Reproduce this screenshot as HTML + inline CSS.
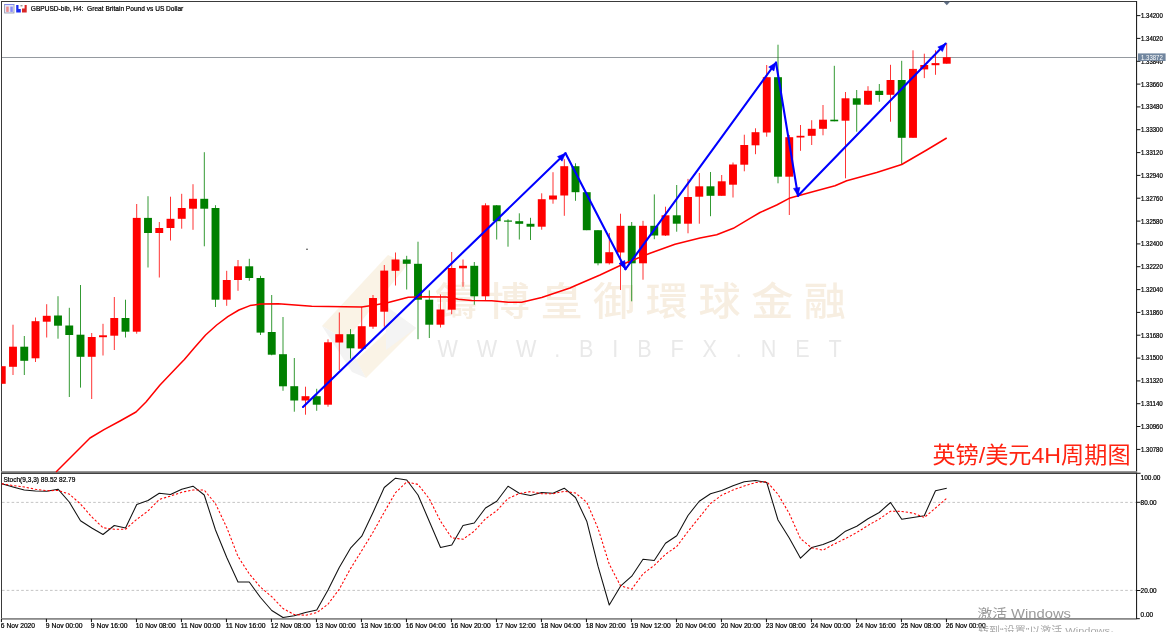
<!DOCTYPE html><html><head><meta charset="utf-8"><title>GBPUSD H4</title>
<style>html,body{margin:0;padding:0;background:#fff;overflow:hidden}svg{display:block}text.s{stroke:#000;stroke-width:.22px}text{font-family:"Liberation Sans","Noto Sans CJK SC",sans-serif}</style></head><body>
<svg width="1170" height="632" viewBox="0 0 1170 632">
<rect width="1170" height="632" fill="#fff"/>
<g opacity="1">
<polygon points="322,326 388,255 408,264 346,340" fill="#faf3e6"/>
<polygon points="322,326 346,340 366,378 352,372" fill="#f3f3f3"/>
<polygon points="366,378 416,328 402,318 356,360" fill="#faf3e6"/>
<polygon points="386,306 416,328 386,350" fill="#f4f4f4"/>
</g>
<g transform="translate(435,315) scale(1.08,1)"><text x="0" y="0" font-size="39" font-weight="500" fill="#f7eee1" letter-spacing="9.8" style="font-family:'Liberation Sans','Noto Sans CJK TC',sans-serif">鑄博皇御環球金融</text></g>
<g transform="translate(437.6,357.2) scale(0.9,1)"><text x="0" y="0" font-size="24" fill="#e9e9e9" textLength="449" lengthAdjust="spacing">WWW.BIBFX.NET</text></g>
<g shape-rendering="crispEdges">
</g>
<rect x="1" y="1" width="1136" height="1" fill="#3a3a3a"/>
<rect x="1" y="1" width="1" height="618" fill="#3a3a3a"/>
<rect x="1136" y="1" width="1.1" height="618.2" fill="#222"/>
<rect x="1136" y="618.1" width="3.8" height="1.1" fill="#222"/>
<rect x="1" y="471.1" width="1136" height="1.8" fill="#8c8c8c"/>
<rect x="1" y="472.7" width="1139.6" height="1.2" fill="#2e2e2e"/>
<rect x="1" y="618" width="1135" height="1.8" fill="#8a8a8a"/>
<rect x="2" y="57.1" width="1134" height="0.9" fill="#8a8f96"/>
<line x1="2" x2="1136" y1="502.4" y2="502.4" stroke="#bdbdbd" stroke-width="0.9" stroke-dasharray="2.6 2.2"/>
<line x1="2" x2="1136" y1="590.4" y2="590.4" stroke="#bdbdbd" stroke-width="0.9" stroke-dasharray="2.6 2.2"/>
<rect x="1.35" y="366.2" width="0.8" height="17.6" fill="#ff0000"/>
<rect x="2.00" y="366.2" width="3.70" height="17.6" fill="#ff0000"/>
<rect x="12.60" y="324.7" width="0.8" height="50.3" fill="#ff0000"/>
<rect x="9.05" y="346.7" width="7.90" height="20.1" fill="#ff0000"/>
<rect x="23.85" y="336" width="0.8" height="39.0" fill="#008000"/>
<rect x="20.30" y="346.7" width="7.90" height="14.1" fill="#008000"/>
<rect x="35.10" y="317.5" width="0.8" height="44.5" fill="#ff0000"/>
<rect x="31.55" y="321.2" width="7.90" height="37.1" fill="#ff0000"/>
<rect x="46.35" y="304.2" width="0.8" height="33.3" fill="#ff0000"/>
<rect x="42.80" y="315.8" width="7.90" height="5.9" fill="#ff0000"/>
<rect x="57.60" y="296.2" width="0.8" height="42.5" fill="#008000"/>
<rect x="54.05" y="315.5" width="7.90" height="10.2" fill="#008000"/>
<rect x="68.85" y="307.8" width="0.8" height="89.2" fill="#008000"/>
<rect x="65.30" y="325.5" width="7.90" height="9.5" fill="#008000"/>
<rect x="80.10" y="285" width="0.8" height="102.6" fill="#008000"/>
<rect x="76.55" y="334.7" width="7.90" height="22.1" fill="#008000"/>
<rect x="91.35" y="333" width="0.8" height="66.0" fill="#ff0000"/>
<rect x="87.80" y="337" width="7.90" height="19.8" fill="#ff0000"/>
<rect x="102.60" y="323.8" width="0.8" height="31.7" fill="#ff0000"/>
<rect x="99.05" y="335.3" width="7.90" height="1.9" fill="#ff0000"/>
<rect x="113.85" y="297" width="0.8" height="53.0" fill="#ff0000"/>
<rect x="110.30" y="318" width="7.90" height="17.7" fill="#ff0000"/>
<rect x="125.10" y="299.7" width="0.8" height="37.8" fill="#008000"/>
<rect x="121.55" y="318" width="7.90" height="13.7" fill="#008000"/>
<rect x="136.35" y="204" width="0.8" height="129.7" fill="#ff0000"/>
<rect x="132.80" y="217.9" width="7.90" height="113.8" fill="#ff0000"/>
<rect x="147.60" y="196.2" width="0.8" height="71.3" fill="#008000"/>
<rect x="144.05" y="217.9" width="7.90" height="15.1" fill="#008000"/>
<rect x="158.85" y="222" width="0.8" height="55.5" fill="#ff0000"/>
<rect x="155.30" y="228" width="7.90" height="5.0" fill="#ff0000"/>
<rect x="170.10" y="196.7" width="0.8" height="43.8" fill="#ff0000"/>
<rect x="166.55" y="218.8" width="7.90" height="9.2" fill="#ff0000"/>
<rect x="181.35" y="193.8" width="0.8" height="34.9" fill="#ff0000"/>
<rect x="177.80" y="208" width="7.90" height="10.8" fill="#ff0000"/>
<rect x="192.60" y="184.2" width="0.8" height="45.6" fill="#ff0000"/>
<rect x="189.05" y="198.8" width="7.90" height="9.9" fill="#ff0000"/>
<rect x="203.85" y="152.2" width="0.8" height="94.1" fill="#008000"/>
<rect x="200.30" y="198.8" width="7.90" height="9.9" fill="#008000"/>
<rect x="215.10" y="205.2" width="0.8" height="101.8" fill="#008000"/>
<rect x="211.55" y="208" width="7.90" height="91.7" fill="#008000"/>
<rect x="226.35" y="270.8" width="0.8" height="35.0" fill="#ff0000"/>
<rect x="222.80" y="280" width="7.90" height="19.7" fill="#ff0000"/>
<rect x="237.60" y="260" width="0.8" height="30.8" fill="#ff0000"/>
<rect x="234.05" y="266.3" width="7.90" height="13.7" fill="#ff0000"/>
<rect x="248.85" y="258.8" width="0.8" height="22.0" fill="#008000"/>
<rect x="245.30" y="266.3" width="7.90" height="11.7" fill="#008000"/>
<rect x="260.10" y="275.8" width="0.8" height="59.2" fill="#008000"/>
<rect x="256.55" y="278" width="7.90" height="54.6" fill="#008000"/>
<rect x="271.35" y="295" width="0.8" height="60.3" fill="#008000"/>
<rect x="267.80" y="332" width="7.90" height="22.7" fill="#008000"/>
<rect x="282.60" y="317" width="0.8" height="73.8" fill="#008000"/>
<rect x="279.05" y="354.2" width="7.90" height="32.1" fill="#008000"/>
<rect x="293.85" y="358" width="0.8" height="53.7" fill="#008000"/>
<rect x="290.30" y="386.2" width="7.90" height="14.3" fill="#008000"/>
<rect x="305.10" y="386.7" width="0.8" height="28.0" fill="#ff0000"/>
<rect x="301.55" y="396.2" width="7.90" height="4.3" fill="#ff0000"/>
<rect x="316.35" y="388.8" width="0.8" height="22.0" fill="#008000"/>
<rect x="312.80" y="396.2" width="7.90" height="8.5" fill="#008000"/>
<rect x="327.60" y="339.3" width="0.8" height="67.4" fill="#ff0000"/>
<rect x="324.05" y="342.3" width="7.90" height="62.4" fill="#ff0000"/>
<rect x="338.85" y="312.5" width="0.8" height="57.5" fill="#ff0000"/>
<rect x="335.30" y="334.2" width="7.90" height="8.3" fill="#ff0000"/>
<rect x="350.10" y="329.1" width="0.8" height="29.6" fill="#008000"/>
<rect x="346.55" y="334.2" width="7.90" height="14.1" fill="#008000"/>
<rect x="361.35" y="306.7" width="0.8" height="42.0" fill="#ff0000"/>
<rect x="357.80" y="326.2" width="7.90" height="22.5" fill="#ff0000"/>
<rect x="372.60" y="295" width="0.8" height="33.8" fill="#ff0000"/>
<rect x="369.05" y="298" width="7.90" height="28.7" fill="#ff0000"/>
<rect x="383.85" y="265" width="0.8" height="61.7" fill="#ff0000"/>
<rect x="380.30" y="270.6" width="7.90" height="41.1" fill="#ff0000"/>
<rect x="395.10" y="252.5" width="0.8" height="33.0" fill="#ff0000"/>
<rect x="391.55" y="259.5" width="7.90" height="11.3" fill="#ff0000"/>
<rect x="406.35" y="255.8" width="0.8" height="33.7" fill="#008000"/>
<rect x="402.80" y="259.5" width="7.90" height="4.3" fill="#008000"/>
<rect x="417.60" y="241.7" width="0.8" height="97.5" fill="#008000"/>
<rect x="414.05" y="263.8" width="7.90" height="35.9" fill="#008000"/>
<rect x="428.85" y="290.3" width="0.8" height="47.7" fill="#008000"/>
<rect x="425.30" y="299.7" width="7.90" height="25.0" fill="#008000"/>
<rect x="440.10" y="294.5" width="0.8" height="33.0" fill="#ff0000"/>
<rect x="436.55" y="309.5" width="7.90" height="15.2" fill="#ff0000"/>
<rect x="451.35" y="252" width="0.8" height="62.2" fill="#ff0000"/>
<rect x="447.80" y="268" width="7.90" height="41.7" fill="#ff0000"/>
<rect x="462.60" y="259.5" width="0.8" height="27.2" fill="#ff0000"/>
<rect x="459.05" y="265.8" width="7.90" height="2.5" fill="#ff0000"/>
<rect x="473.85" y="262" width="0.8" height="42.7" fill="#008000"/>
<rect x="470.30" y="265.8" width="7.90" height="30.5" fill="#008000"/>
<rect x="485.10" y="203.3" width="0.8" height="96.7" fill="#ff0000"/>
<rect x="481.55" y="205.3" width="7.90" height="91.0" fill="#ff0000"/>
<rect x="496.35" y="205" width="0.8" height="34.5" fill="#008000"/>
<rect x="492.80" y="205.3" width="7.90" height="15.9" fill="#008000"/>
<rect x="507.60" y="219.2" width="0.8" height="27.5" fill="#008000"/>
<rect x="504.05" y="220.5" width="7.90" height="1.2" fill="#008000"/>
<rect x="518.85" y="213.3" width="0.8" height="26.2" fill="#008000"/>
<rect x="515.30" y="221.2" width="7.90" height="2.6" fill="#008000"/>
<rect x="530.10" y="217.8" width="0.8" height="22.2" fill="#008000"/>
<rect x="526.55" y="223.8" width="7.90" height="2.9" fill="#008000"/>
<rect x="541.35" y="193.3" width="0.8" height="36.4" fill="#ff0000"/>
<rect x="537.80" y="199.2" width="7.90" height="27.5" fill="#ff0000"/>
<rect x="552.60" y="172.2" width="0.8" height="31.5" fill="#ff0000"/>
<rect x="549.05" y="195.5" width="7.90" height="4.0" fill="#ff0000"/>
<rect x="563.85" y="159.2" width="0.8" height="56.6" fill="#ff0000"/>
<rect x="560.30" y="166.2" width="7.90" height="29.3" fill="#ff0000"/>
<rect x="575.10" y="163.3" width="0.8" height="37.5" fill="#008000"/>
<rect x="571.55" y="166.2" width="7.90" height="26.0" fill="#008000"/>
<rect x="586.35" y="192.2" width="0.8" height="38.0" fill="#008000"/>
<rect x="582.80" y="192.2" width="7.90" height="38.0" fill="#008000"/>
<rect x="597.60" y="230.2" width="0.8" height="35.1" fill="#008000"/>
<rect x="594.05" y="230.2" width="7.90" height="33.1" fill="#008000"/>
<rect x="608.85" y="233" width="0.8" height="31.5" fill="#ff0000"/>
<rect x="605.30" y="252.2" width="7.90" height="11.1" fill="#ff0000"/>
<rect x="620.10" y="213.7" width="0.8" height="76.3" fill="#ff0000"/>
<rect x="616.55" y="225.8" width="7.90" height="26.7" fill="#ff0000"/>
<rect x="631.35" y="222" width="0.8" height="79.3" fill="#008000"/>
<rect x="627.80" y="225.8" width="7.90" height="37.5" fill="#008000"/>
<rect x="642.60" y="220.8" width="0.8" height="58.9" fill="#ff0000"/>
<rect x="639.05" y="225.8" width="7.90" height="37.5" fill="#ff0000"/>
<rect x="653.85" y="194.4" width="0.8" height="44.8" fill="#008000"/>
<rect x="650.30" y="225.8" width="7.90" height="9.7" fill="#008000"/>
<rect x="665.10" y="206.7" width="0.8" height="29.3" fill="#ff0000"/>
<rect x="661.55" y="215.3" width="7.90" height="20.2" fill="#ff0000"/>
<rect x="676.35" y="185" width="0.8" height="46.7" fill="#008000"/>
<rect x="672.80" y="215.3" width="7.90" height="8.4" fill="#008000"/>
<rect x="687.60" y="178.9" width="0.8" height="54.4" fill="#ff0000"/>
<rect x="684.05" y="197" width="7.90" height="26.7" fill="#ff0000"/>
<rect x="698.85" y="173" width="0.8" height="50.7" fill="#ff0000"/>
<rect x="695.30" y="186.3" width="7.90" height="10.4" fill="#ff0000"/>
<rect x="710.10" y="172" width="0.8" height="44.2" fill="#008000"/>
<rect x="706.55" y="186.3" width="7.90" height="9.5" fill="#008000"/>
<rect x="721.35" y="175" width="0.8" height="20.8" fill="#ff0000"/>
<rect x="717.80" y="181.3" width="7.90" height="14.5" fill="#ff0000"/>
<rect x="732.60" y="162.5" width="0.8" height="35.0" fill="#ff0000"/>
<rect x="729.05" y="164.5" width="7.90" height="20.2" fill="#ff0000"/>
<rect x="743.85" y="134.7" width="0.8" height="36.6" fill="#ff0000"/>
<rect x="740.30" y="145" width="7.90" height="19.7" fill="#ff0000"/>
<rect x="755.10" y="128.3" width="0.8" height="25.9" fill="#ff0000"/>
<rect x="751.55" y="132.2" width="7.90" height="13.1" fill="#ff0000"/>
<rect x="766.35" y="65" width="0.8" height="71.7" fill="#ff0000"/>
<rect x="762.80" y="77.2" width="7.90" height="55.3" fill="#ff0000"/>
<rect x="777.60" y="44.7" width="0.8" height="138.6" fill="#008000"/>
<rect x="774.05" y="77.2" width="7.90" height="99.5" fill="#008000"/>
<rect x="788.85" y="135" width="0.8" height="80.0" fill="#ff0000"/>
<rect x="785.30" y="137.2" width="7.90" height="39.5" fill="#ff0000"/>
<rect x="800.10" y="125" width="0.8" height="25.8" fill="#ff0000"/>
<rect x="796.55" y="135.8" width="7.90" height="1.7" fill="#ff0000"/>
<rect x="811.35" y="120.2" width="0.8" height="24.8" fill="#ff0000"/>
<rect x="807.80" y="128.8" width="7.90" height="7.0" fill="#ff0000"/>
<rect x="822.60" y="105" width="0.8" height="30.3" fill="#ff0000"/>
<rect x="819.05" y="119.7" width="7.90" height="9.1" fill="#ff0000"/>
<rect x="833.85" y="65.8" width="0.8" height="55.5" fill="#008000"/>
<rect x="830.30" y="119.7" width="7.90" height="1.6" fill="#008000"/>
<rect x="845.10" y="92" width="0.8" height="86.3" fill="#ff0000"/>
<rect x="841.55" y="98.3" width="7.90" height="22.4" fill="#ff0000"/>
<rect x="856.35" y="90" width="0.8" height="41.7" fill="#008000"/>
<rect x="852.80" y="98.3" width="7.90" height="6.4" fill="#008000"/>
<rect x="867.60" y="86.2" width="0.8" height="18.8" fill="#ff0000"/>
<rect x="864.05" y="90.8" width="7.90" height="13.9" fill="#ff0000"/>
<rect x="878.85" y="84" width="0.8" height="17.7" fill="#008000"/>
<rect x="875.30" y="90.8" width="7.90" height="4.2" fill="#008000"/>
<rect x="890.10" y="64.8" width="0.8" height="56.9" fill="#ff0000"/>
<rect x="886.55" y="80" width="7.90" height="14.8" fill="#ff0000"/>
<rect x="901.35" y="60.8" width="0.8" height="103.4" fill="#008000"/>
<rect x="897.80" y="80" width="7.90" height="57.8" fill="#008000"/>
<rect x="912.60" y="50.3" width="0.8" height="87.5" fill="#ff0000"/>
<rect x="909.05" y="68.9" width="7.90" height="68.9" fill="#ff0000"/>
<rect x="923.85" y="53.7" width="0.8" height="24.4" fill="#ff0000"/>
<rect x="920.30" y="65" width="7.90" height="4.4" fill="#ff0000"/>
<rect x="935.10" y="50.3" width="0.8" height="24.5" fill="#ff0000"/>
<rect x="931.55" y="63.1" width="7.90" height="2.1" fill="#ff0000"/>
<rect x="946.35" y="43.3" width="0.8" height="20.4" fill="#ff0000"/>
<rect x="942.80" y="57.2" width="7.90" height="6.5" fill="#ff0000"/>
<polyline points="56,472 72,456 90,438 104,429.6 120,421 136,412 146,402 160,385 180,364 184.4,359.4 194.4,347.8 205.6,335 216.7,325 227.8,316.7 238.9,310 250,305.6 261.1,304.1 278.3,303.7 295,305 311.7,306.3 345,306.7 361.7,307 375,305 388.3,302.5 408.3,297.2 425,296.7 446.7,297 458.3,299.2 471.7,300.5 491.7,300.8 508.3,302.2 521.7,302.2 541.7,297.5 570,288 575,285.8 600,275 625,263.3 650,253.3 675,244.2 700,238 716.7,234.7 733.3,228.3 750,218.3 760,212.5 776.7,205 789.2,198.3 810,192.5 835,185.8 846.7,180.8 876.7,172.5 901.7,164.5 926.7,150 946.7,138" fill="none" stroke="#ff0000" stroke-width="1.5" stroke-linejoin="round"/>
<circle cx="307" cy="249.2" r="0.8" fill="#333"/>
<line x1="303" y1="407" x2="565.5" y2="153.3" stroke="#0000ff" stroke-width="2.1" stroke-linecap="round"/>
<polygon points="565.5,153.3 562.0,161.2 557.5,156.6" fill="#0000ff" stroke="#0000ff" stroke-width="0.6" stroke-linejoin="round"/>
<line x1="565.5" y1="153.3" x2="625.5" y2="269.2" stroke="#0000ff" stroke-width="2.1" stroke-linecap="round"/>
<polygon points="625.5,269.2 619.0,263.6 624.7,260.6" fill="#0000ff" stroke="#0000ff" stroke-width="0.6" stroke-linejoin="round"/>
<line x1="625.5" y1="269.2" x2="776" y2="62.5" stroke="#0000ff" stroke-width="2.1" stroke-linecap="round"/>
<polygon points="776.0,62.5 773.9,70.9 768.7,67.1" fill="#0000ff" stroke="#0000ff" stroke-width="0.6" stroke-linejoin="round"/>
<line x1="776" y1="62.5" x2="798" y2="195.8" stroke="#0000ff" stroke-width="2.1" stroke-linecap="round"/>
<polygon points="798.0,195.8 793.5,188.4 799.9,187.4" fill="#0000ff" stroke="#0000ff" stroke-width="0.6" stroke-linejoin="round"/>
<line x1="798" y1="195.8" x2="945.7" y2="43.6" stroke="#0000ff" stroke-width="2.1" stroke-linecap="round"/>
<polygon points="945.7,43.6 942.4,51.6 937.8,47.1" fill="#0000ff" stroke="#0000ff" stroke-width="0.6" stroke-linejoin="round"/>
<polyline points="1.75,483.75 13.00,487 24.25,490 35.50,491 46.75,491.2 58.00,489.2 69.25,502 80.50,520.7 91.75,528 103.00,534.5 114.25,525.5 125.50,528 136.75,504.5 148.00,500.5 159.25,493.2 170.50,494.5 181.75,489.2 193.00,486.2 204.25,495 215.50,530 226.75,557.5 238.00,582 249.25,582 260.50,597.5 271.75,610.5 283.00,617.5 294.25,615.7 305.50,612.5 316.75,610 328.00,590 339.25,567.5 350.50,548.2 361.75,536.2 373.00,512.5 384.25,487.5 395.50,478.2 406.75,480 418.00,495 429.25,521.2 440.50,547.5 451.75,545 463.00,525.5 474.25,523 485.50,508 496.75,501.2 508.00,486.2 519.25,493.2 530.50,495.5 541.75,492.5 553.00,493.2 564.25,488.2 575.50,497.5 586.75,521.2 598.00,566.2 609.25,605 620.50,586.2 631.75,576.2 643.00,559.2 654.25,560.5 665.50,543.2 676.75,535.7 688.00,515.5 699.25,501.2 710.50,493.7 721.75,490.5 733.00,485.7 744.25,481.7 755.50,480.5 766.75,482.5 778.00,520 789.25,538 800.50,558.2 811.75,547.5 823.00,544.5 834.25,540 845.50,531.2 856.75,526.2 868.00,518.7 879.25,512.5 890.50,502.5 901.75,519.2 913.00,517.5 924.25,515.7 935.50,490.7 946.75,488.2" fill="none" stroke="#111" stroke-width="1.05" stroke-linejoin="round"/>
<polyline points="1.75,483.8 13.00,485.5 24.25,487.0 35.50,489.3 46.75,490.7 58.00,490.5 69.25,494.1 80.50,504.0 91.75,516.9 103.00,527.7 114.25,529.3 125.50,529.3 136.75,519.3 148.00,511.0 159.25,499.4 170.50,496.1 181.75,492.3 193.00,490.0 204.25,490.1 215.50,503.7 226.75,527.5 238.00,556.5 249.25,573.8 260.50,587.2 271.75,596.7 283.00,608.5 294.25,614.6 305.50,615.2 316.75,612.7 328.00,604.2 339.25,589.2 350.50,568.6 361.75,550.6 373.00,532.3 384.25,512.1 395.50,492.7 406.75,481.9 418.00,484.4 429.25,498.7 440.50,521.2 451.75,537.9 463.00,539.3 474.25,531.2 485.50,518.8 496.75,510.7 508.00,498.5 519.25,493.5 530.50,491.6 541.75,493.7 553.00,493.7 564.25,491.3 575.50,493.0 586.75,502.3 598.00,528.3 609.25,564.1 620.50,585.8 631.75,589.1 643.00,573.9 654.25,565.3 665.50,554.3 676.75,546.5 688.00,531.5 699.25,517.5 710.50,503.5 721.75,495.1 733.00,490.0 744.25,486.0 755.50,482.6 766.75,481.6 778.00,494.3 789.25,513.5 800.50,538.7 811.75,547.9 823.00,550.1 834.25,544.0 845.50,538.6 856.75,532.5 868.00,525.4 879.25,519.1 890.50,511.2 901.75,511.4 913.00,513.1 924.25,517.5 935.50,508.0 946.75,498.2" fill="none" stroke="#ff0000" stroke-width="1.05" stroke-dasharray="2.3 1.9" stroke-linejoin="round"/>
<rect x="1136.8" y="15.1" width="3.6" height="1" fill="#111"/>
<text class="s" x="1141" y="18.0" font-size="6.8" fill="#000" textLength="21.8" lengthAdjust="spacingAndGlyphs">1.34200</text>
<rect x="1136.8" y="37.9" width="3.6" height="1" fill="#111"/>
<text class="s" x="1141" y="40.8" font-size="6.8" fill="#000" textLength="21.8" lengthAdjust="spacingAndGlyphs">1.34020</text>
<rect x="1136.8" y="60.8" width="3.6" height="1" fill="#111"/>
<text class="s" x="1141" y="63.7" font-size="6.8" fill="#000" textLength="21.8" lengthAdjust="spacingAndGlyphs">1.33840</text>
<rect x="1136.8" y="83.6" width="3.6" height="1" fill="#111"/>
<text class="s" x="1141" y="86.5" font-size="6.8" fill="#000" textLength="21.8" lengthAdjust="spacingAndGlyphs">1.33660</text>
<rect x="1136.8" y="106.4" width="3.6" height="1" fill="#111"/>
<text class="s" x="1141" y="109.3" font-size="6.8" fill="#000" textLength="21.8" lengthAdjust="spacingAndGlyphs">1.33480</text>
<rect x="1136.8" y="129.2" width="3.6" height="1" fill="#111"/>
<text class="s" x="1141" y="132.2" font-size="6.8" fill="#000" textLength="21.8" lengthAdjust="spacingAndGlyphs">1.33300</text>
<rect x="1136.8" y="152.1" width="3.6" height="1" fill="#111"/>
<text class="s" x="1141" y="155.0" font-size="6.8" fill="#000" textLength="21.8" lengthAdjust="spacingAndGlyphs">1.33120</text>
<rect x="1136.8" y="174.9" width="3.6" height="1" fill="#111"/>
<text class="s" x="1141" y="177.8" font-size="6.8" fill="#000" textLength="21.8" lengthAdjust="spacingAndGlyphs">1.32940</text>
<rect x="1136.8" y="197.7" width="3.6" height="1" fill="#111"/>
<text class="s" x="1141" y="200.6" font-size="6.8" fill="#000" textLength="21.8" lengthAdjust="spacingAndGlyphs">1.32760</text>
<rect x="1136.8" y="220.6" width="3.6" height="1" fill="#111"/>
<text class="s" x="1141" y="223.5" font-size="6.8" fill="#000" textLength="21.8" lengthAdjust="spacingAndGlyphs">1.32580</text>
<rect x="1136.8" y="243.4" width="3.6" height="1" fill="#111"/>
<text class="s" x="1141" y="246.3" font-size="6.8" fill="#000" textLength="21.8" lengthAdjust="spacingAndGlyphs">1.32400</text>
<rect x="1136.8" y="266.2" width="3.6" height="1" fill="#111"/>
<text class="s" x="1141" y="269.1" font-size="6.8" fill="#000" textLength="21.8" lengthAdjust="spacingAndGlyphs">1.32220</text>
<rect x="1136.8" y="289.1" width="3.6" height="1" fill="#111"/>
<text class="s" x="1141" y="292.0" font-size="6.8" fill="#000" textLength="21.8" lengthAdjust="spacingAndGlyphs">1.32040</text>
<rect x="1136.8" y="311.9" width="3.6" height="1" fill="#111"/>
<text class="s" x="1141" y="314.8" font-size="6.8" fill="#000" textLength="21.8" lengthAdjust="spacingAndGlyphs">1.31860</text>
<rect x="1136.8" y="334.7" width="3.6" height="1" fill="#111"/>
<text class="s" x="1141" y="337.6" font-size="6.8" fill="#000" textLength="21.8" lengthAdjust="spacingAndGlyphs">1.31680</text>
<rect x="1136.8" y="357.6" width="3.6" height="1" fill="#111"/>
<text class="s" x="1141" y="360.4" font-size="6.8" fill="#000" textLength="21.8" lengthAdjust="spacingAndGlyphs">1.31500</text>
<rect x="1136.8" y="380.4" width="3.6" height="1" fill="#111"/>
<text class="s" x="1141" y="383.3" font-size="6.8" fill="#000" textLength="21.8" lengthAdjust="spacingAndGlyphs">1.31320</text>
<rect x="1136.8" y="403.2" width="3.6" height="1" fill="#111"/>
<text class="s" x="1141" y="406.1" font-size="6.8" fill="#000" textLength="21.8" lengthAdjust="spacingAndGlyphs">1.31140</text>
<rect x="1136.8" y="426.0" width="3.6" height="1" fill="#111"/>
<text class="s" x="1141" y="428.9" font-size="6.8" fill="#000" textLength="21.8" lengthAdjust="spacingAndGlyphs">1.30960</text>
<rect x="1136.8" y="448.9" width="3.6" height="1" fill="#111"/>
<text class="s" x="1141" y="451.8" font-size="6.8" fill="#000" textLength="21.8" lengthAdjust="spacingAndGlyphs">1.30780</text>
<rect x="1138" y="53.4" width="27.6" height="7.6" fill="#71869f"/>
<text x="1141" y="59.8" font-size="6.8" fill="#fff" textLength="21.8" lengthAdjust="spacingAndGlyphs">1.33872</text>
<text class="s" x="1140.6" y="479.5" font-size="6.8" fill="#000" textLength="19.8" lengthAdjust="spacingAndGlyphs">100.00</text>
<rect x="1136.8" y="501.8" width="3.6" height="1" fill="#111"/>
<text class="s" x="1140.6" y="504.7" font-size="6.8" fill="#000" textLength="16" lengthAdjust="spacingAndGlyphs">80.00</text>
<rect x="1136.8" y="590.0" width="3.6" height="1" fill="#111"/>
<text class="s" x="1140.6" y="592.9" font-size="6.8" fill="#000" textLength="16" lengthAdjust="spacingAndGlyphs">20.00</text>
<text class="s" x="1140.6" y="617.2" font-size="6.8" fill="#000" textLength="12.4" lengthAdjust="spacingAndGlyphs">0.00</text>
<rect x="0.90" y="618.8" width="1.1" height="3.3" fill="#1a1a1a"/>
<text class="s" x="0.85" y="628.3" font-size="6.8" fill="#000" textLength="34.2" lengthAdjust="spacingAndGlyphs">6 Nov 2020</text>
<rect x="45.90" y="618.8" width="1.1" height="3.3" fill="#1a1a1a"/>
<text class="s" x="45.85" y="628.3" font-size="6.8" fill="#000" textLength="36.6" lengthAdjust="spacingAndGlyphs">9 Nov 00:00</text>
<rect x="90.90" y="618.8" width="1.1" height="3.3" fill="#1a1a1a"/>
<text class="s" x="90.85" y="628.3" font-size="6.8" fill="#000" textLength="36.6" lengthAdjust="spacingAndGlyphs">9 Nov 16:00</text>
<rect x="135.90" y="618.8" width="1.1" height="3.3" fill="#1a1a1a"/>
<text class="s" x="135.85" y="628.3" font-size="6.8" fill="#000" textLength="39.8" lengthAdjust="spacingAndGlyphs">10 Nov 08:00</text>
<rect x="180.90" y="618.8" width="1.1" height="3.3" fill="#1a1a1a"/>
<text class="s" x="180.85" y="628.3" font-size="6.8" fill="#000" textLength="39.8" lengthAdjust="spacingAndGlyphs">11 Nov 00:00</text>
<rect x="225.90" y="618.8" width="1.1" height="3.3" fill="#1a1a1a"/>
<text class="s" x="225.85" y="628.3" font-size="6.8" fill="#000" textLength="39.8" lengthAdjust="spacingAndGlyphs">11 Nov 16:00</text>
<rect x="270.90" y="618.8" width="1.1" height="3.3" fill="#1a1a1a"/>
<text class="s" x="270.85" y="628.3" font-size="6.8" fill="#000" textLength="39.8" lengthAdjust="spacingAndGlyphs">12 Nov 08:00</text>
<rect x="315.90" y="618.8" width="1.1" height="3.3" fill="#1a1a1a"/>
<text class="s" x="315.85" y="628.3" font-size="6.8" fill="#000" textLength="39.8" lengthAdjust="spacingAndGlyphs">13 Nov 00:00</text>
<rect x="360.90" y="618.8" width="1.1" height="3.3" fill="#1a1a1a"/>
<text class="s" x="360.85" y="628.3" font-size="6.8" fill="#000" textLength="39.8" lengthAdjust="spacingAndGlyphs">13 Nov 16:00</text>
<rect x="405.90" y="618.8" width="1.1" height="3.3" fill="#1a1a1a"/>
<text class="s" x="405.85" y="628.3" font-size="6.8" fill="#000" textLength="39.8" lengthAdjust="spacingAndGlyphs">16 Nov 04:00</text>
<rect x="450.90" y="618.8" width="1.1" height="3.3" fill="#1a1a1a"/>
<text class="s" x="450.85" y="628.3" font-size="6.8" fill="#000" textLength="39.8" lengthAdjust="spacingAndGlyphs">16 Nov 20:00</text>
<rect x="495.90" y="618.8" width="1.1" height="3.3" fill="#1a1a1a"/>
<text class="s" x="495.85" y="628.3" font-size="6.8" fill="#000" textLength="39.8" lengthAdjust="spacingAndGlyphs">17 Nov 12:00</text>
<rect x="540.90" y="618.8" width="1.1" height="3.3" fill="#1a1a1a"/>
<text class="s" x="540.85" y="628.3" font-size="6.8" fill="#000" textLength="39.8" lengthAdjust="spacingAndGlyphs">18 Nov 04:00</text>
<rect x="585.90" y="618.8" width="1.1" height="3.3" fill="#1a1a1a"/>
<text class="s" x="585.85" y="628.3" font-size="6.8" fill="#000" textLength="39.8" lengthAdjust="spacingAndGlyphs">18 Nov 20:00</text>
<rect x="630.90" y="618.8" width="1.1" height="3.3" fill="#1a1a1a"/>
<text class="s" x="630.85" y="628.3" font-size="6.8" fill="#000" textLength="39.8" lengthAdjust="spacingAndGlyphs">19 Nov 12:00</text>
<rect x="675.90" y="618.8" width="1.1" height="3.3" fill="#1a1a1a"/>
<text class="s" x="675.85" y="628.3" font-size="6.8" fill="#000" textLength="39.8" lengthAdjust="spacingAndGlyphs">20 Nov 04:00</text>
<rect x="720.90" y="618.8" width="1.1" height="3.3" fill="#1a1a1a"/>
<text class="s" x="720.85" y="628.3" font-size="6.8" fill="#000" textLength="39.8" lengthAdjust="spacingAndGlyphs">20 Nov 20:00</text>
<rect x="765.90" y="618.8" width="1.1" height="3.3" fill="#1a1a1a"/>
<text class="s" x="765.85" y="628.3" font-size="6.8" fill="#000" textLength="39.8" lengthAdjust="spacingAndGlyphs">23 Nov 08:00</text>
<rect x="810.90" y="618.8" width="1.1" height="3.3" fill="#1a1a1a"/>
<text class="s" x="810.85" y="628.3" font-size="6.8" fill="#000" textLength="39.8" lengthAdjust="spacingAndGlyphs">24 Nov 00:00</text>
<rect x="855.90" y="618.8" width="1.1" height="3.3" fill="#1a1a1a"/>
<text class="s" x="855.85" y="628.3" font-size="6.8" fill="#000" textLength="39.8" lengthAdjust="spacingAndGlyphs">24 Nov 16:00</text>
<rect x="900.90" y="618.8" width="1.1" height="3.3" fill="#1a1a1a"/>
<text class="s" x="900.85" y="628.3" font-size="6.8" fill="#000" textLength="39.8" lengthAdjust="spacingAndGlyphs">25 Nov 08:00</text>
<rect x="945.90" y="618.8" width="1.1" height="3.3" fill="#1a1a1a"/>
<text class="s" x="945.85" y="628.3" font-size="6.8" fill="#000" textLength="39.8" lengthAdjust="spacingAndGlyphs">26 Nov 00:00</text>
<text class="s" x="30.8" y="11" font-size="6.9" fill="#000" textLength="152.5" lengthAdjust="spacingAndGlyphs" style="white-space:pre">GBPUSD-bib, H4:  Great Britain Pound vs US Dollar</text>
<text class="s" x="3.4" y="482.4" font-size="6.8" fill="#000" textLength="72" lengthAdjust="spacingAndGlyphs">Stoch(9,3,3) 89.52 82.79</text>
<rect x="4.6" y="4.4" width="9.4" height="8.6" fill="#e4e8fb" stroke="#8f95a8" stroke-width="0.8"/>
<rect x="4.4" y="4.1" width="9.8" height="0.9" fill="#7d86f0"/>
<rect x="6.2" y="6.6" width="2.5" height="5.3" fill="#f08a8a"/><rect x="10.3" y="6.6" width="2.5" height="5.3" fill="#8a8af5"/>
<path d="M16.2 4.9h2.3v4.1h2.3v3.6h-4.6z" fill="#1a2cf0"/>
<path d="M26.7 5.1h-2.1v3.4h-2.6v4.1h4.7z" fill="#d82626"/>
<rect x="20.5" y="5.1" width="2" height="1.3" fill="#888"/>
<polygon points="943.3,1.5 950.3,1.5 946.8,5.2" fill="#5f6e84"/>
<text x="932.4" y="462.9" font-size="22.4" fill="#ff2412" textLength="198.2" lengthAdjust="spacingAndGlyphs">英镑/美元4H周期图</text>
<text x="977.5" y="617.6" font-size="12.5" fill="#9a9a9a" textLength="93.5" lengthAdjust="spacingAndGlyphs">激活 Windows</text>
<text x="978" y="634" font-size="9.8" fill="#a8a8a8" textLength="143" lengthAdjust="spacingAndGlyphs">转到“设置”以激活 Windows。</text>
</svg></body></html>
